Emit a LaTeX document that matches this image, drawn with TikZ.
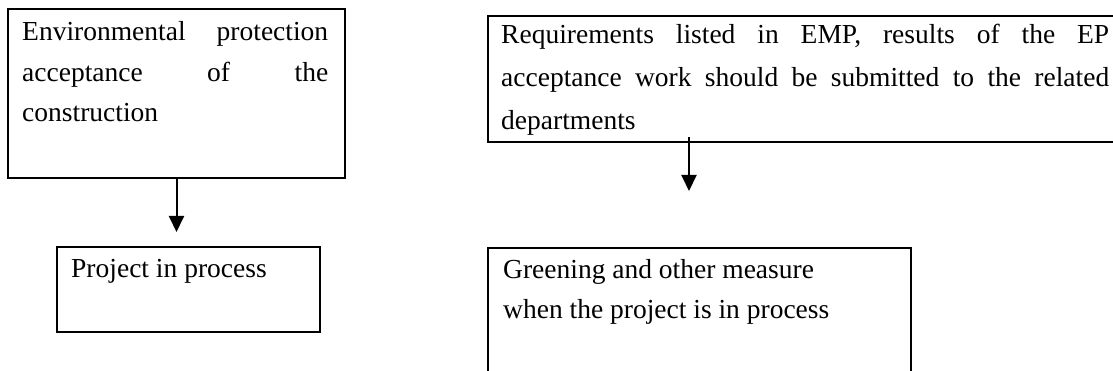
\documentclass[tikz,border=0pt]{standalone}
\usepackage{fontspec}
\setmainfont{Liberation Serif}
\usetikzlibrary{arrows.meta}
\tikzset{
  boxshape/.style={draw=black, line width=2pt, rectangle, inner sep=0pt, anchor=north west},
  txt/.style={inner sep=0pt, anchor=base west},
  arr/.style={draw=black, line width=2pt, -{Triangle[length=16pt,width=15pt]}}
}
\newcommand{\jline}[1]{\makebox[\linewidth][s]{#1}}
\begin{document}
\begin{tikzpicture}[x=1pt,y=-1pt]
\useasboundingbox (0,0) rectangle (1113,371);
\clip (0,0) rectangle (1113,371);
% boxes
\node[boxshape, minimum width=337pt, minimum height=169pt] (b1) at (7,8) {};
\node[boxshape, minimum width=263pt, minimum height=85pt] (b2) at (56,246) {};
\node[boxshape, minimum width=700pt, minimum height=126pt] (b3) at (487,15) {};
\node[boxshape, minimum width=423pt, minimum height=173pt] (b4) at (487,247) {};
% texts
\node[txt] (t1) at (22,41) {\parbox[t]{306pt}{\fontsize{27.5pt}{40.5pt}\selectfont
  \jline{Environmental protection}\par
  \jline{acceptance of the}\par
  construction}};
\node[txt] (t2) at (71,277) {\fontsize{27.5pt}{40pt}\selectfont Project in process};
\node[txt] (t3) at (501,44) {\parbox[t]{608pt}{\fontsize{27.5pt}{43pt}\selectfont
  \jline{Requirements listed in EMP, results of the EP}\par
  \jline{acceptance work should be submitted to the related}\par
  departments}};
\node[txt] (t4) at (503,278) {\parbox[t]{400pt}{\raggedright\fontsize{27.5pt}{40pt}\selectfont
  Greening and other measure\par
  when the project is in process}};
% connectors
\draw[arr, shorten >=14pt] (b1.south) -- (b1.south |- b2.north);
\coordinate (a2) at (689,137);
\draw[arr, shorten >=56pt] (a2) -- (a2 |- b4.north);
\end{tikzpicture}
\end{document}
